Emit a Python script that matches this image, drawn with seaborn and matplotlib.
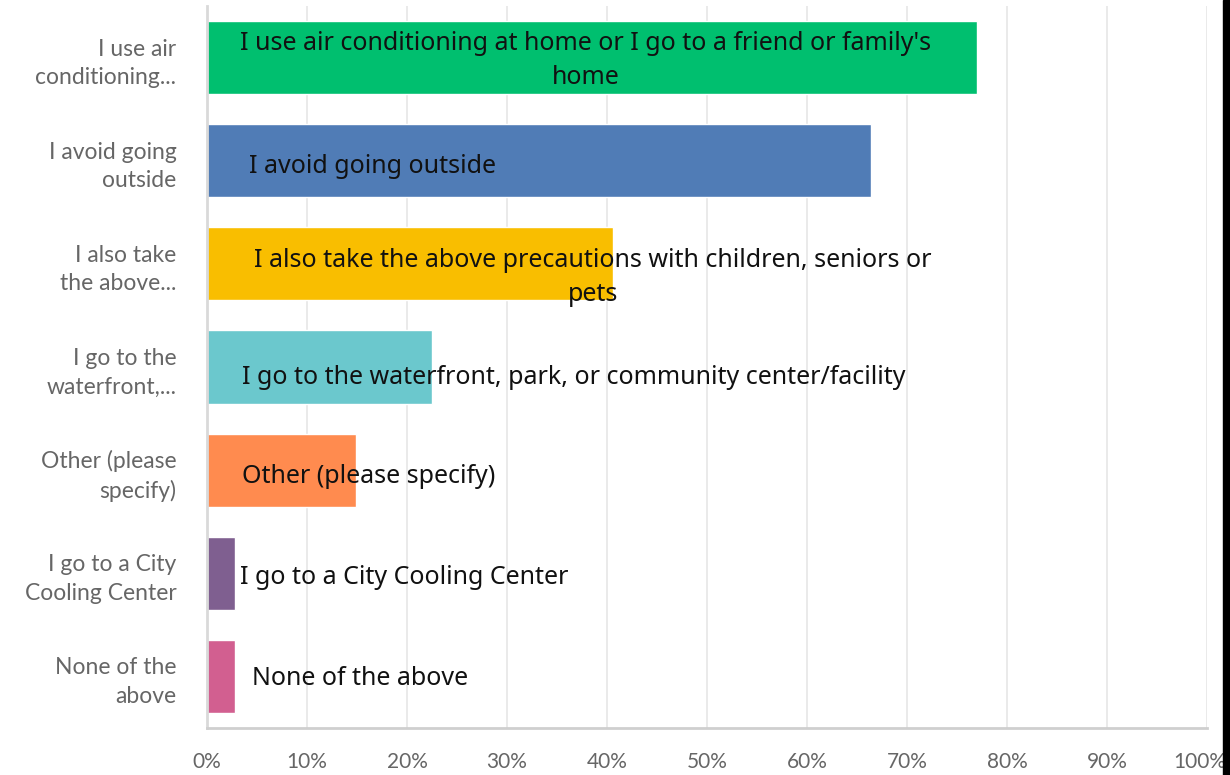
import matplotlib
matplotlib.use("Agg")
import matplotlib.pyplot as plt
import seaborn as sns
import pandas as pd
from matplotlib.ticker import MultipleLocator, FuncFormatter

# Survey answers (short labels on the axis, full labels overlaid on the bars)
categories = [
    "I use air\nconditioning...",
    "I avoid going\noutside",
    "I also take\nthe above...",
    "I go to the\nwaterfront,...",
    "Other (please\nspecify)",
    "I go to a City\nCooling Center",
    "None of the\nabove",
]
full_labels = [
    "I use air conditioning at home or I go to a friend or family's\nhome",
    "I avoid going outside",
    "I also take the above precautions with children, seniors or\npets",
    "I go to the waterfront, park, or community center/facility",
    "Other (please specify)",
    "I go to a City Cooling Center",
    "None of the above",
]
percent = [77.0, 66.4, 40.6, 22.5, 14.9, 2.8, 2.8]
colors = ["#00BF6F", "#507CB6", "#F9BE00", "#6BC8CD", "#FF8B4F", "#7F5F90", "#D25F90"]

df = pd.DataFrame({"answer": categories, "pct": percent})

sns.set_theme(style="white")
plt.rcParams["font.family"] = ["Lato", "DejaVu Sans"]

fig = plt.figure(figsize=(12.3, 7.75), dpi=100)
ax = fig.add_axes([0.1683, 0.0606, 0.8130, 0.9317])

sns.barplot(data=df, x="pct", y="answer", hue="answer", palette=colors,
            legend=False, width=0.71, saturation=1, ax=ax)

ax.set_xlim(0, 100)
ax.set_ylim(6.5, -0.5)
ax.xaxis.set_major_locator(MultipleLocator(10))
# the 100% label is drawn separately so it stays clear of the right frame edge
ax.xaxis.set_major_formatter(FuncFormatter(lambda v, p: "" if v >= 100 else f"{v:.0f}%"))
ax.annotate("100%", xy=(100, 0), xycoords=ax.get_xaxis_transform(),
            xytext=(-5, -17), textcoords="offset points", ha="center", va="top",
            fontsize=15, color="#666666")
ax.grid(axis="x", color="#e6e6e6", linewidth=1.2)
ax.set_axisbelow(True)
ax.set_xlabel("")
ax.set_ylabel("")
ax.tick_params(axis="x", labelsize=15, labelcolor="#666666", length=0, pad=17)
ax.tick_params(axis="y", labelsize=16.5, labelcolor="#666666", length=0, pad=22)
for lbl in ax.get_yticklabels():
    lbl.set_horizontalalignment("right")
    lbl.set_linespacing(1.45)
for s in ["top", "right"]:
    ax.spines[s].set_visible(False)
ax.spines["left"].set_color("#d9d9d9")
ax.spines["left"].set_linewidth(2)
ax.spines["bottom"].set_color("#cfcfcf")
ax.spines["bottom"].set_linewidth(2)

# overlaid full answer text
text_x = [37.9, 4.2, 38.6, 3.5, 3.5, 3.3, 4.5]
text_ha = ["center", "left", "center", "left", "left", "left", "left"]
text_dy = [0.03, 0.06, 0.13, 0.1, 0.06, 0.04, 0.02]
for i, (lab, x, ha, dy) in enumerate(zip(full_labels, text_x, text_ha, text_dy)):
    ax.text(x, i + dy, lab, ha=ha, va="center", fontsize=18,
            color="#111111", family=["Noto Sans", "DejaVu Sans"], linespacing=1.45)

# dark frame edge on the right
fig.add_artist(plt.Rectangle((0.9945, 0), 0.0055, 1, transform=fig.transFigure,
                             color="black", zorder=10))

fig.savefig("out.png", dpi=100)
